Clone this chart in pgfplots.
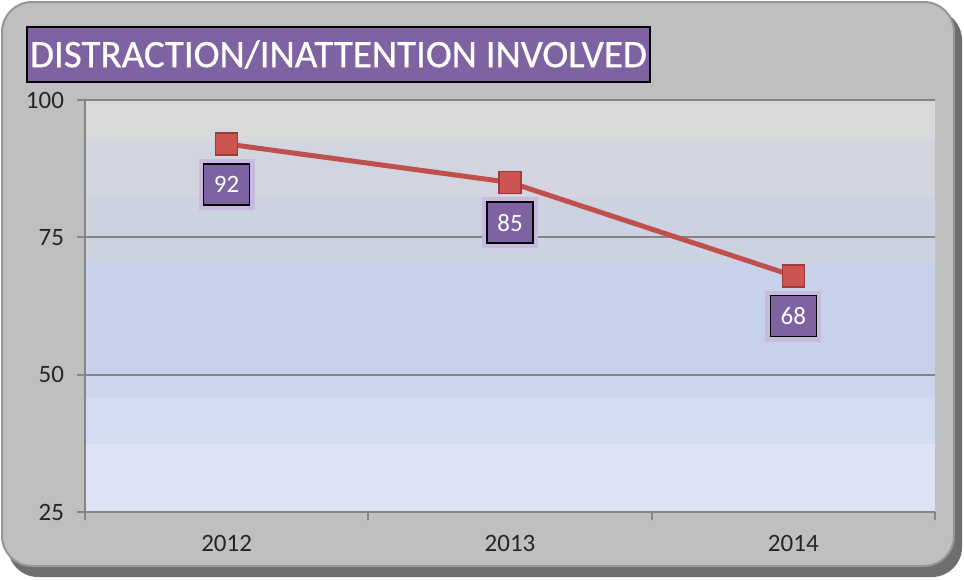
\documentclass[border=0pt]{standalone}
\usepackage{fontspec}
\setmainfont{Carlito}
\newfontfamily\titlefont[FakeBold=0.6]{Carlito}
\usepackage{pgfplots}
\pgfplotsset{compat=1.18}

\definecolor{framegray}{HTML}{BFBFBF}
\definecolor{frameedge}{HTML}{969696}
\definecolor{shadowgray}{HTML}{6E6E6E}
\definecolor{bandA}{HTML}{D8D9DB}
\definecolor{bandB}{HTML}{D2D5DF}
\definecolor{bandC}{HTML}{CDD2E0}
\definecolor{bandD}{HTML}{C7D2EA}
\definecolor{bandE}{HTML}{CBD5EC}
\definecolor{bandF}{HTML}{D2DCF0}
\definecolor{bandG}{HTML}{DBE3F4}
\definecolor{gridgray}{HTML}{858585}
\definecolor{linered}{HTML}{C0504D}
\definecolor{markred}{HTML}{CC5552}
\definecolor{markedge}{HTML}{9E3A38}
\definecolor{boxpurple}{HTML}{7F62A1}
\definecolor{glowpurple}{HTML}{C8B9DF}
\definecolor{labelgray}{HTML}{262626}

\begin{document}
\begin{tikzpicture}
% frame, title and plot-area bands, in pixel units of the reference (y downwards)
\begin{scope}[x=0.5pt,y=-0.5pt]
  \useasboundingbox (0,0) rectangle (964,579);
  \fill[shadowgray, rounded corners=15pt] (8,10) rectangle (962,577);
  \fill[framegray, draw=frameedge, line width=1pt, rounded corners=15pt] (2,2) rectangle (954,566);
  \node[fill=boxpurple, draw=black, line width=1pt, minimum width=311.5pt,
        minimum height=27.5pt, inner sep=0pt, text=white,
        font=\titlefont\fontsize{19.5}{22}\selectfont] at (338.5,54.5) {DISTRACTION/INATTENTION INVOLVED};
  \fill[bandA] (85,100) rectangle (935,141);
  \fill[bandB] (85,141) rectangle (935,198);
  \fill[bandC] (85,198) rectangle (935,262);
  \fill[bandD] (85,262) rectangle (935,375);
  \fill[bandE] (85,375) rectangle (935,397);
  \fill[bandF] (85,397) rectangle (935,444);
  \fill[bandG] (85,444) rectangle (935,512);
\end{scope}

\begin{axis}[
    at={(42.5pt,-256pt)}, anchor=south west,
    scale only axis, width=425pt, height=206pt,
    xmin=-0.5, xmax=2.5, ymin=25, ymax=100,
    xtick={0,1,2}, xticklabels={2012,2013,2014},
    minor xtick={-0.5,0.5,1.5,2.5},
    ytick={25,50,75,100},
    axis x line*=bottom, axis y line*=left,
    axis line style={draw=gridgray, line width=1pt},
    tick align=outside,
    major tick length=4pt, minor tick length=4pt,
    tick style={draw=gridgray, line width=1pt},
    major x tick style={draw=none},
    ymajorgrids,
    major grid style={draw=gridgray, line width=1pt},
    /pgf/number format/assume math mode=true,
    ticklabel style={font=\fontsize{12.5}{14}\selectfont, text=labelgray},
    yticklabel style={xshift=-3pt},
    xticklabel style={yshift=-4pt},
]
\addplot[color=linered, line width=2.5pt, mark=square*, mark size=5.5pt,
    mark options={fill=markred, draw=markedge, line width=0.8pt},
    nodes near coords,
    every node near coord/.style={anchor=north, yshift=-9.5pt,
        fill=boxpurple, draw=black, line width=0.8pt, text=white,
        minimum width=23pt, minimum height=20.5pt, inner sep=0pt,
        font=\fontsize{12.5}{14}\selectfont,
        preaction={draw=glowpurple, line width=5pt}},
] coordinates {
    (0,92)
    (1,85)
    (2,68)
};
\end{axis}
\end{tikzpicture}
\end{document}
